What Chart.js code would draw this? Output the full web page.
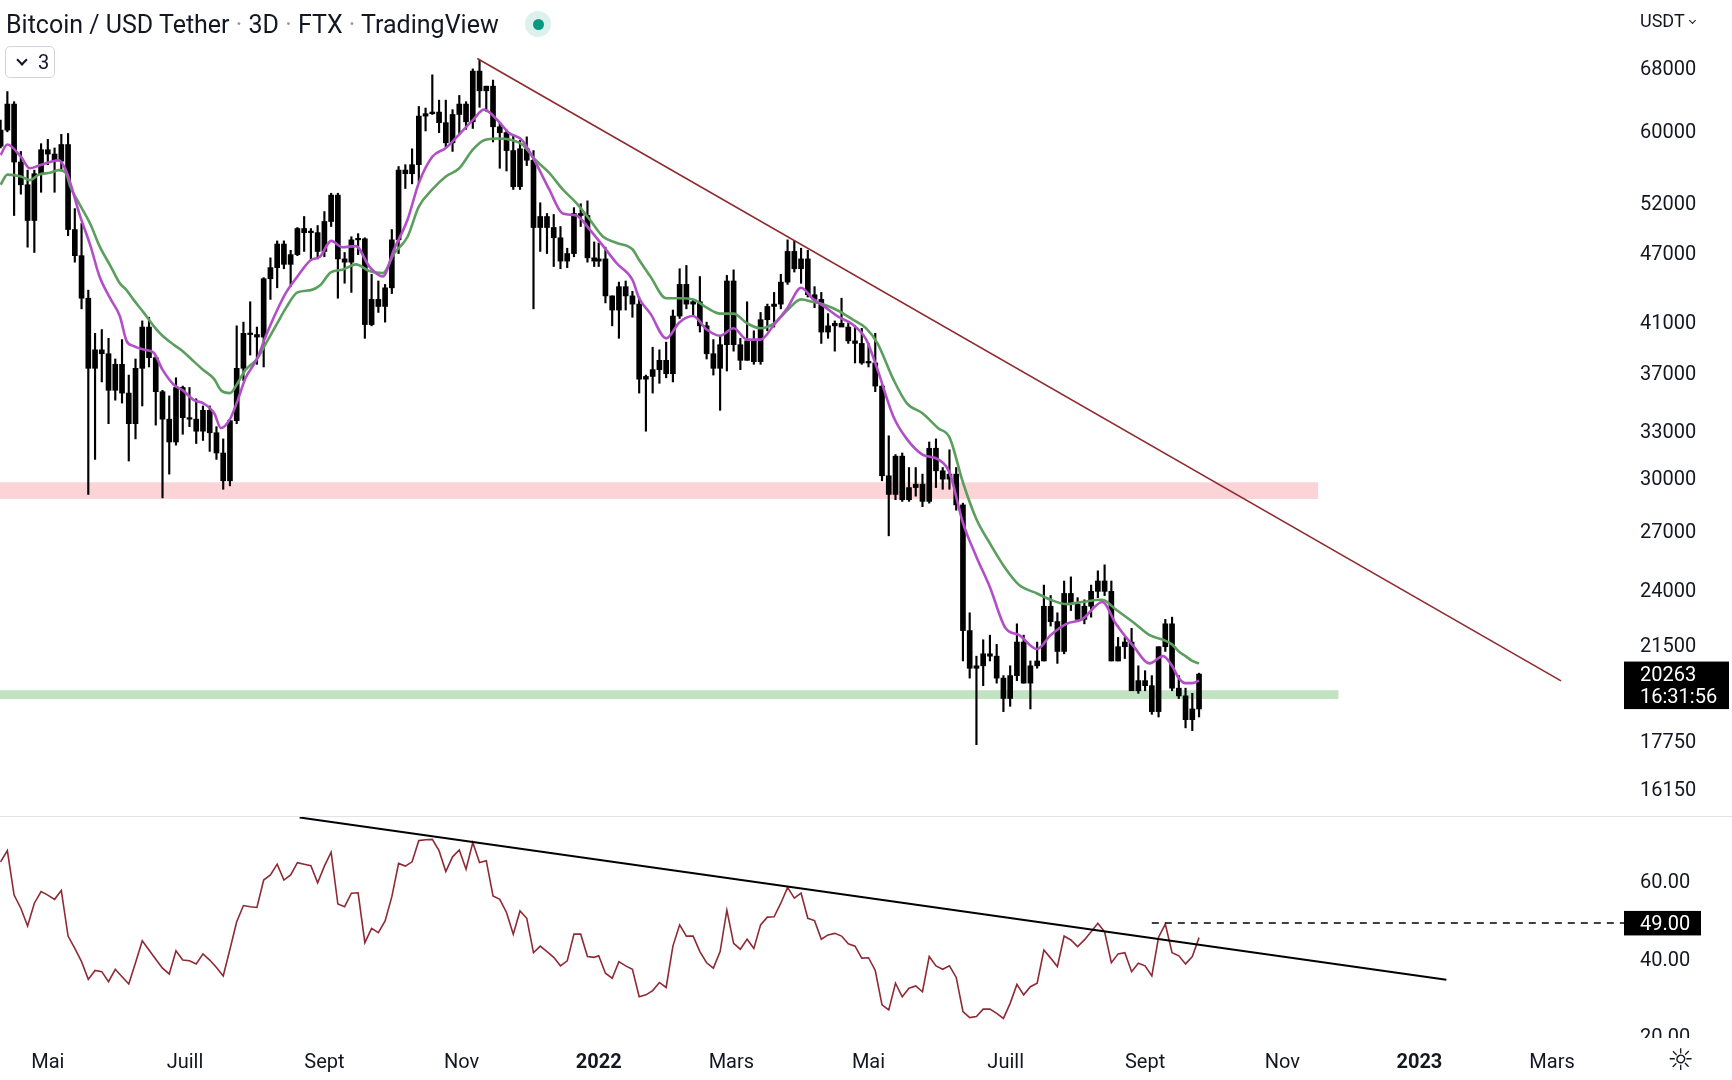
<!DOCTYPE html>
<html lang="fr">
<head>
<meta charset="utf-8">
<title>Bitcoin / USD Tether · 3D · FTX</title>
<script src="https://cdn.jsdelivr.net/npm/chart.js@4.4.1/dist/chart.umd.min.js"></script>
<style>
  html, body { margin: 0; padding: 0; background: #ffffff; }
  body { width: 1732px; height: 1080px; position: relative; overflow: hidden;
         font-family: Roboto, "Noto Sans", sans-serif; color: #131722; }
  canvas { position: absolute; left: 0; }
  #priceChart { top: 0; }
  #rsiChart { top: 816px; }
  #paneDivider { position: absolute; left: 0; top: 816px; width: 1732px; height: 1px; background: #e0e3eb; }
  #header { position: absolute; left: 6px; top: 10px; font-size: 25px; line-height: 30px; white-space: nowrap; }
  #header .dot { color: #9598a1; }
  #liveDot { position: absolute; left: 525px; top: 11px; width: 26px; height: 26px; border-radius: 50%;
             background: rgba(8, 153, 129, 0.14); }
  #liveDot::after { content: ''; position: absolute; left: 7.5px; top: 7.5px; width: 11px; height: 11px;
                    border-radius: 50%; background: #089981; }
  #legendToggle { position: absolute; left: 5px; top: 46px; width: 50px; height: 32px; box-sizing: border-box;
                  border: 1px solid #d1d4dc; border-radius: 5px; font-size: 20px; }
  #legendToggle .chev { position: absolute; left: 12px; top: 9px; }
  #legendToggle .num { position: absolute; left: 32px; top: 4px; line-height: 22px; }
  .chev { display: inline-block; width: 6px; height: 6px; border-right: 2px solid #131722;
          border-bottom: 2px solid #131722; transform: rotate(45deg); }
  #currency { position: absolute; left: 1640px; top: 10px; font-size: 18px; line-height: 22px; }
  #currency .chev { width: 4px; height: 4px; border-width: 1.5px; margin-left: 5px; vertical-align: 4px; }
  #settingsIcon { position: absolute; left: 1667px; top: 1043px; font-size: 30px; line-height: 34px; font-family: "DejaVu Sans", sans-serif; }
</style>
</head>
<body>
<canvas id="priceChart" width="1732" height="816"></canvas>
<canvas id="rsiChart" width="1732" height="264"></canvas>
<div id="paneDivider"></div>
<div id="header">Bitcoin / USD Tether <span class="dot">·</span> 3D <span class="dot">·</span> FTX <span class="dot">·</span> TradingView</div>
<div id="liveDot"></div>
<div id="legendToggle"><span class="chev"></span><span class="num">3</span></div>
<div id="currency">USDT<span class="chev"></span></div>
<div id="settingsIcon">☼</div>

<script>
// 3D candles, FTX BTC/USDT
const candleDates = [
  '2021-04-10','2021-04-13','2021-04-16','2021-04-19','2021-04-22','2021-04-25','2021-04-28','2021-05-01','2021-05-04','2021-05-07',
  '2021-05-10','2021-05-13','2021-05-16','2021-05-19','2021-05-22','2021-05-25','2021-05-28','2021-05-31','2021-06-03','2021-06-06',
  '2021-06-09','2021-06-12','2021-06-15','2021-06-18','2021-06-21','2021-06-24','2021-06-27','2021-06-30','2021-07-03','2021-07-06',
  '2021-07-09','2021-07-12','2021-07-15','2021-07-18','2021-07-21','2021-07-24','2021-07-27','2021-07-30','2021-08-02','2021-08-05',
  '2021-08-08','2021-08-11','2021-08-14','2021-08-17','2021-08-20','2021-08-23','2021-08-26','2021-08-29','2021-09-01','2021-09-04',
  '2021-09-07','2021-09-10','2021-09-13','2021-09-16','2021-09-19','2021-09-22','2021-09-25','2021-09-28','2021-10-01','2021-10-04',
  '2021-10-07','2021-10-10','2021-10-13','2021-10-16','2021-10-19','2021-10-22','2021-10-25','2021-10-28','2021-10-31','2021-11-03',
  '2021-11-06','2021-11-09','2021-11-12','2021-11-15','2021-11-18','2021-11-21','2021-11-24','2021-11-27','2021-11-30','2021-12-03',
  '2021-12-06','2021-12-09','2021-12-12','2021-12-15','2021-12-18','2021-12-21','2021-12-24','2021-12-27','2021-12-30',
  '2022-01-01','2022-01-04','2022-01-07','2022-01-10','2022-01-13','2022-01-16','2022-01-19','2022-01-22','2022-01-25','2022-01-28',
  '2022-01-31','2022-02-03','2022-02-06','2022-02-09','2022-02-12','2022-02-15','2022-02-18','2022-02-21','2022-02-24','2022-02-27',
  '2022-03-02','2022-03-05','2022-03-08','2022-03-11','2022-03-14','2022-03-17','2022-03-20','2022-03-23','2022-03-26','2022-03-29',
  '2022-04-01','2022-04-04','2022-04-07','2022-04-10','2022-04-13','2022-04-16','2022-04-19','2022-04-22','2022-04-25','2022-04-28',
  '2022-05-01','2022-05-04','2022-05-07','2022-05-10','2022-05-13','2022-05-16','2022-05-19','2022-05-22','2022-05-25','2022-05-28',
  '2022-05-31','2022-06-03','2022-06-06','2022-06-09','2022-06-12','2022-06-15','2022-06-18','2022-06-21','2022-06-24','2022-06-27',
  '2022-06-30','2022-07-03','2022-07-06','2022-07-09','2022-07-12','2022-07-15','2022-07-18','2022-07-21','2022-07-24','2022-07-27',
  '2022-07-30','2022-08-02','2022-08-05','2022-08-08','2022-08-11','2022-08-14','2022-08-17','2022-08-20','2022-08-23','2022-08-26',
  '2022-08-29','2022-09-01','2022-09-04','2022-09-07','2022-09-10','2022-09-13','2022-09-16','2022-09-19','2022-09-22','2022-09-25'
];

const openPrices = [
  58100,60000,63200,56300,53800,50100,55000,57700,57200,56400, 58300,49200,46700,42900,37300,38700,38400,35700,37600,35500,
  33400,37300,40500,38100,35600,33700,32200,35900,33800,33700, 32900,34300,32800,31500,29800,33600,37300,40000,39900,39700,
  44600,45600,47800,45900,46800,49300,48900,48900,47100,50000, 52700,46400,46100,48200,48300,40700,42800,42200,43800,48200,
  55400,55000,56000,61700,62000,62200,60900,58500,61900,63200, 61000,67500,64900,65500,60400,59700,57600,53600,57800,56500,
  49400,50500,49400,48400,46200,46900,50800,50600,46500,
  46200,46400,43100,41900,43900,43100,42400,36500,36700,37200, 37900,36900,41400,44100,42400,42600,40600,38400,37300,39100,
  44400,39100,37900,39400,37800,41100,42200,42400,44300,47100, 45500,46400,43200,42800,40100,40600,40800,40500,39400,39200,
  37700,37700,36000,30100,29000,31300,28700,29400,29600,28600, 31800,30400,29900,30200,28400,22100,20500,20600,21100,21000,
  20100,19300,20200,21600,19900,20600,20800,23200,22500,21200, 23800,23300,22600,23200,23900,24400,23900,20800,21400,21600,
  19600,20000,19800,18800,21400,22400,19700,19400,18500,18900
];
const highPrices = [
  61200,64800,63500,57500,55400,55400,58400,58900,57900,59500, 59600,51300,49800,43600,40000,40300,39600,38000,39500,36800,
  38000,41000,41300,38200,35700,35300,36600,36000,35900,35100, 34600,34600,33200,32400,33700,40600,40900,42600,40500,44700,
  46500,48100,48100,47200,49400,50500,49300,49600,51000,52900, 52900,47000,48500,48800,48400,45000,44400,44100,49200,55800,
  56000,57800,62900,62700,67000,63700,63700,62500,64300,63500, 67800,69000,65500,66300,60900,60000,59400,58800,59200,57600,
  51900,50800,50700,49500,47400,51400,51800,52100,48000,
  47900,47500,43100,44300,44400,43500,43000,36800,38900,38700, 39300,41900,45500,45800,42800,44800,40900,39500,39800,44900,
  45400,39600,42600,40200,41700,42400,43400,45000,48200,48100, 47400,47200,43900,43400,41600,41000,42900,40800,40600,40400,
  39200,40000,36100,32600,31400,31500,30600,30600,30200,32200, 32400,30600,31700,30600,28500,22900,21000,21700,21900,21500,
  20200,20600,22400,21900,20800,21600,24200,23700,22900,24400, 24600,23600,23500,24200,24900,25200,24400,21800,21800,22200,
  20600,20400,20200,21400,22600,22700,20200,19700,19500,20300
];
const lowPrices = [
  57900,59800,50600,52800,47500,47000,53000,56000,53000,55300, 48600,46100,42000,29000,31100,36300,33400,35000,34800,31000,
  32400,34600,37400,33300,28800,30200,32000,32700,33200,32100, 32300,31600,31100,29300,29500,33400,36400,38300,37600,37400,
  42800,43800,45500,43900,46700,47100,46400,46400,46600,49500, 42900,44200,43400,46800,39600,40600,41700,40900,43300,46900,
  53400,53900,54000,59900,61900,59700,58000,57500,59500,60100, 60200,62800,62300,58600,55600,55300,53300,53300,55900,42000,
  47100,46900,45700,45500,45600,46600,49500,46100,45700,
  45700,42500,40600,39600,41900,41300,35500,32900,35500,36200, 36600,36300,41200,42000,41500,40100,38000,36800,34300,37100,
  38600,37200,37900,37600,37600,40200,40500,42000,44100,45200, 44200,43000,42100,39200,39600,38600,40600,39200,37700,37600,
  37400,35600,29800,26700,28700,28600,28600,28900,28300,28500, 29400,29300,29300,28100,20800,20100,17600,19800,20800,19900,
  18800,19000,20000,19900,18900,20500,20800,22300,20700,21100, 23000,22600,22400,22700,23600,23700,20800,20800,20900,19600,
  19500,19600,18700,18600,21200,19600,19300,18200,18100,18600
];
const closePrices = [
  60000,63200,56300,53800,50100,55000,57700,57200,56400,58300, 49200,46700,42900,37300,38700,38400,35700,37600,35500,33400,
  37300,40500,38100,35600,33700,32200,35900,33800,33700,32900, 34300,32800,31500,29800,33600,37300,40000,39900,39700,44600,
  45600,47800,45900,46800,49300,48900,48900,47100,50000,52700, 46400,46100,48200,48300,40700,42800,42200,43800,48200,55400,
  55000,56000,61700,62000,62200,60900,58500,61900,63200,61000, 67500,64900,65500,60400,59700,57600,53600,57800,56500,49400,
  50500,49400,48400,46200,46900,50800,50600,46500,46200,
  46400,43100,41900,43900,43100,42400,36500,36700,37200,37900, 36900,41400,44100,42400,42600,40600,38400,37300,39100,44400,
  39100,37900,39400,37800,41100,42200,42400,44300,47100,45500, 46400,43200,42800,40100,40600,40800,40500,39400,39200,37700,
  37700,36000,30100,29000,31300,28700,29400,29600,28600,31800, 30400,29900,30200,28400,22100,20500,20600,21100,21000,20100,
  19300,20200,21600,19900,20600,20800,23200,22500,21200,23800, 23300,22600,23200,23900,24400,23900,20800,21400,21600,19600,
  20000,19800,18800,21400,22400,19700,19400,18500,18900,20263
];

// moving averages (days counted from 1 Jan 2022)
const emaDays = [
  -266,-263,-257,-253,-249,-244,-240,-237,-235,-231, -226,-222,-217,-213,-210,-207,-202,-198,-194,-189,
  -185,-180,-176,-171,-168,-164,-161,-157,-152,-148, -143,-139,-134,-128,-124,-119,-114,-108,-102,-96,
  -91,-85,-80,-74,-68,-62,-56,-51,-45,-40, -34,-28,-22,-16,-10,-4,2,8,15,18,
  23,30,36,42,48,54,60,66,72,78, 84,90,95,101,107,113,119,124,131,137,
  144,151,156,162,168,174,181,187,195,201, 208,215,224,230,238,245,251,255,258,261,
  264,267
];
const emaFast = [
  57100,58300,56900,55600,55900,56300,56500,55400,54000,50800, 47600,44800,42800,41400,39400,39000,38700,38500,37200,36100,
  35700,35000,34800,34100,33100,33700,34800,36600,38000,39800, 41900,43400,44800,46300,46600,48100,47500,47600,45700,44800,
  47300,50200,54000,56900,57900,59500,61200,62500,61200,59700, 58800,56200,53300,50800,50600,49200,47600,46000,44500,42900,
  41600,39600,40900,41400,40300,39800,40400,39500,39500,40700, 42100,43800,42900,42100,41300,40700,39500,37200,33900,32400,
  31400,31100,30300,27400,25600,24100,22200,21900,21300,21900, 22400,22600,23400,22400,21400,20700,21000,20600,20100,19900,
  19900,20000
];
const emaSlow = [
  53800,54900,54700,54300,54900,55100,55400,55100,53600,51800, 49700,47600,45700,44200,43600,42800,41600,40600,39800,39100,
  38600,37800,37200,36500,35700,35500,36100,37200,38000,39200, 40800,42100,43400,43600,44000,45200,45400,45900,45300,45100,
  46900,48500,51500,53300,54700,55600,57700,58800,59000,58900, 58300,56500,55100,53300,51900,50200,48500,47900,47300,46300,
  44800,42900,42900,42800,42100,41600,41600,40800,40400,40800, 41900,42800,42600,42300,41800,41100,40400,39200,36500,34800,
  34100,33100,32500,29700,27600,26300,25000,24200,23800,23500, 23300,23400,23500,23050,22450,21900,21700,21500,21200,21000,
  20800,20700
];

// RSI, one value per candle
const rsiValues = [
  64.8,67.7,56.2,52.8,48.2,54.1,57.1,56.2,55.1,57.4, 45.6,42.4,39.0,34.4,36.7,36.4,33.8,37.0,35.1,33.2,
  38.7,44.4,42.0,39.6,37.3,35.8,41.8,39.4,39.2,38.4, 41.0,39.4,37.5,35.3,42.2,49.3,53.5,53.2,53.0,60.1,
  61.4,64.2,60.1,61.4,64.6,64.2,63.8,59.4,63.7,67.3, 53.9,53.2,56.7,56.8,43.9,47.6,46.5,49.5,55.8,64.4,
  63.7,64.8,70.3,70.5,70.6,67.7,62.3,66.1,67.9,62.9, 69.8,64.6,65.1,56.0,55.1,51.7,46.1,52.1,50.2,41.3,
  43.0,41.6,40.1,37.9,39.2,46.1,46.1,40.3,40.1,
  40.5,36.0,34.7,39.0,37.9,37.0,29.9,30.4,31.5,33.6, 32.3,43.0,48.5,45.6,45.6,41.6,38.7,37.3,41.6,52.3,
  43.7,42.2,44.8,42.4,48.5,50.5,50.6,54.1,58.2,55.4, 56.7,50.2,49.6,44.8,45.9,46.3,45.6,43.6,43.0,39.9,
  40.0,36.7,27.8,26.5,33.4,29.9,32.1,32.7,31.2,40.3, 37.9,37.0,37.9,34.9,26.1,24.5,24.8,26.7,26.7,25.6,
  24.3,28.2,33.1,30.4,32.5,33.4,42.0,39.9,37.7,45.6, 44.6,42.9,44.6,46.7,48.9,46.7,38.7,41.0,41.3,36.4,
  38.6,37.9,35.3,45.3,48.7,41.3,40.5,38.4,40.3,45.2
];

// drawings
const trendDays = [-54, 428];
const trendPrices = [69220, 19990];
const zoneTops = [29710, 19620];
const zoneBottoms = [28740, 19280];
const zoneEndDays = [320, 329];
const zoneColors = ['rgba(242, 54, 69, 0.22)', 'rgba(76, 175, 80, 0.35)'];
const rsiTrendDays = [-133, 377];
const rsiTrendValues = [76.3, 34.3];
const rsiLevelDays = [246, 456];
const rsiLevel = 49;
const lastBarCountdown = '16:31:56';

// axes
const priceTicks = [16150, 17750, 21500, 24000, 27000, 30000, 33000, 37000, 41000, 47000, 52000, 60000, 68000];
const rsiTicks = [20, 40, 60];
const monthTickDays = [-245, -184, -122, -61, 0, 59, 120, 181, 243, 304, 365, 424];
const monthTickLabels = ['Mai', 'Juill', 'Sept', 'Nov', '2022', 'Mars', 'Mai', 'Juill', 'Sept', 'Nov', '2023', 'Mars'];
const yearTickDays = [0, 365];

const X_MIN = -266.27, X_MAX = 456.0;
const PRICE_MIN = 15265, PRICE_MAX = 77790;
const RSI_MIN = 18.72, RSI_MAX = 76.66;
const AXIS_W = 108;
const FONT = 'Roboto, "Noto Sans", sans-serif';

Chart.defaults.font.family = FONT;
Chart.defaults.color = '#131722';

const BASE = Date.UTC(2022, 0, 1);
function dayOf(s) {
  const p = s.split('-').map(Number);
  return (Date.UTC(p[0], p[1] - 1, p[2]) - BASE) / 86400000;
}

// keep the plot area flush with the canvas edges
function noPadding(s) {
  s.paddingTop = 0; s.paddingBottom = 0; s.paddingLeft = 0; s.paddingRight = 0;
}

const xs = candleDates.map(dayOf);
const wickData = xs.map((x, i) => ({ x: x, y: [lowPrices[i], highPrices[i]] }));
const bodyData = xs.map((x, i) => ({ x: x, y: [openPrices[i], closePrices[i]] }));
const fastData = emaDays.map((d, i) => ({ x: d, y: emaFast[i] }));
const slowData = emaDays.map((d, i) => ({ x: d, y: emaSlow[i] }));
const trendData = trendDays.map((d, i) => ({ x: d, y: trendPrices[i] }));
const rsiData = xs.map((x, i) => ({ x: x, y: rsiValues[i] }));
const rsiTrendData = rsiTrendDays.map((d, i) => ({ x: d, y: rsiTrendValues[i] }));
const rsiLevelData = rsiLevelDays.map(d => ({ x: d, y: rsiLevel }));

// pink / green zones behind the candles
const zonePlugin = {
  id: 'zones',
  beforeDatasetsDraw(chart) {
    const { ctx, chartArea, scales } = chart;
    ctx.save();
    zoneTops.forEach((top, i) => {
      const y1 = scales.y.getPixelForValue(top);
      const y2 = scales.y.getPixelForValue(zoneBottoms[i]);
      const x2 = scales.x.getPixelForValue(zoneEndDays[i]);
      ctx.fillStyle = zoneColors[i];
      ctx.fillRect(chartArea.left, y1, x2 - chartArea.left, y2 - y1);
    });
    ctx.restore();
  }
};

// black label with last price and countdown
const lastPricePlugin = {
  id: 'lastPrice',
  afterDraw(chart) {
    const { ctx, chartArea, scales } = chart;
    const last = closePrices[closePrices.length - 1];
    const y = scales.y.getPixelForValue(last);
    ctx.save();
    ctx.fillStyle = '#000000';
    ctx.fillRect(chartArea.right, y - 12.5, 105, 47.5);
    ctx.fillStyle = '#ffffff';
    ctx.font = '20px ' + FONT;
    ctx.textBaseline = 'middle';
    ctx.fillText(String(last), chartArea.right + 16, y + 2);
    ctx.fillText(lastBarCountdown, chartArea.right + 16, y + 24);
    ctx.restore();
  }
};

new Chart(document.getElementById('priceChart'), {
  type: 'bar',
  data: {
    datasets: [
      { type: 'line', data: trendData, borderColor: '#8e2a2e', borderWidth: 1.6, pointRadius: 0, order: 0 },
      { type: 'line', data: fastData, borderColor: '#b24fc7', borderWidth: 2.6, pointRadius: 0,
        cubicInterpolationMode: 'monotone', borderJoinStyle: 'round', order: 1 },
      { type: 'line', data: slowData, borderColor: '#5c9e5e', borderWidth: 2.6, pointRadius: 0,
        cubicInterpolationMode: 'monotone', borderJoinStyle: 'round', order: 2 },
      { type: 'bar', data: bodyData, backgroundColor: '#000000', barThickness: 5, grouped: false,
        minBarLength: 1.5, order: 3 },
      { type: 'bar', data: wickData, backgroundColor: '#000000', barThickness: 1.5, grouped: false, order: 4 }
    ]
  },
  options: {
    responsive: false,
    animation: false,
    devicePixelRatio: 1,
    layout: { padding: 0 },
    plugins: { legend: { display: false }, tooltip: { enabled: false } },
    scales: {
      x: { type: 'linear', min: X_MIN, max: X_MAX, offset: false, bounds: 'data', display: false },
      y: {
        type: 'logarithmic', position: 'right', min: PRICE_MIN, max: PRICE_MAX, bounds: 'data',
        grid: { display: false, drawTicks: false },
        border: { display: false },
        ticks: { padding: 16, labelOffset: 3, color: '#131722', font: { size: 20 }, callback: v => String(v) },
        afterBuildTicks: s => { s.ticks = priceTicks.map(v => ({ value: v })); },
        afterFit: s => { s.width = AXIS_W; noPadding(s); }
      }
    }
  },
  plugins: [zonePlugin, lastPricePlugin]
});

// black 49.00 label + clip of the bottom rsi tick
const rsiLabelPlugin = {
  id: 'rsiLabel',
  afterDraw(chart) {
    const { ctx, chartArea, scales } = chart;
    ctx.save();
    ctx.fillStyle = '#ffffff';
    ctx.fillRect(chartArea.right, chartArea.bottom - 2, AXIS_W, 42);
    const y = scales.y.getPixelForValue(rsiLevel);
    ctx.fillStyle = '#000000';
    ctx.fillRect(chartArea.right, y - 12, 77, 24.5);
    ctx.fillStyle = '#ffffff';
    ctx.font = '20px ' + FONT;
    ctx.textBaseline = 'middle';
    ctx.fillText(rsiLevel.toFixed(2), chartArea.right + 16, y + 2);
    ctx.restore();
  }
};

new Chart(document.getElementById('rsiChart'), {
  type: 'line',
  data: {
    datasets: [
      { data: rsiLevelData, borderColor: '#000000', borderWidth: 1.6, borderDash: [7, 6], pointRadius: 0, order: 0 },
      { data: rsiTrendData, borderColor: '#000000', borderWidth: 2, pointRadius: 0, order: 1 },
      { data: rsiData, borderColor: '#8e2a35', borderWidth: 1.6, pointRadius: 0, tension: 0, order: 2 }
    ]
  },
  options: {
    responsive: false,
    animation: false,
    devicePixelRatio: 1,
    layout: { padding: 0 },
    plugins: { legend: { display: false }, tooltip: { enabled: false } },
    scales: {
      x: {
        type: 'linear', min: X_MIN, max: X_MAX, offset: false, bounds: 'data',
        grid: { display: false, drawTicks: false },
        border: { display: false },
        ticks: {
          autoSkip: false, maxRotation: 0, padding: 11, color: '#131722',
          font: ctx => ({ size: 20, weight: ctx.tick && yearTickDays.includes(ctx.tick.value) ? 'bold' : 'normal' }),
          callback: (v, i) => monthTickLabels[i]
        },
        afterBuildTicks: s => { s.ticks = monthTickDays.map(v => ({ value: v })); },
        afterFit: s => { s.height = 40; noPadding(s); }
      },
      y: {
        type: 'linear', position: 'right', min: RSI_MIN, max: RSI_MAX, bounds: 'data',
        grid: { display: false, drawTicks: false },
        border: { display: false },
        ticks: { padding: 16, labelOffset: 3, color: '#131722', font: { size: 20 }, callback: v => v.toFixed(2) },
        afterBuildTicks: s => { s.ticks = rsiTicks.map(v => ({ value: v })); },
        afterFit: s => { s.width = AXIS_W; noPadding(s); }
      }
    }
  },
  plugins: [rsiLabelPlugin]
});
</script>
</body>
</html>
